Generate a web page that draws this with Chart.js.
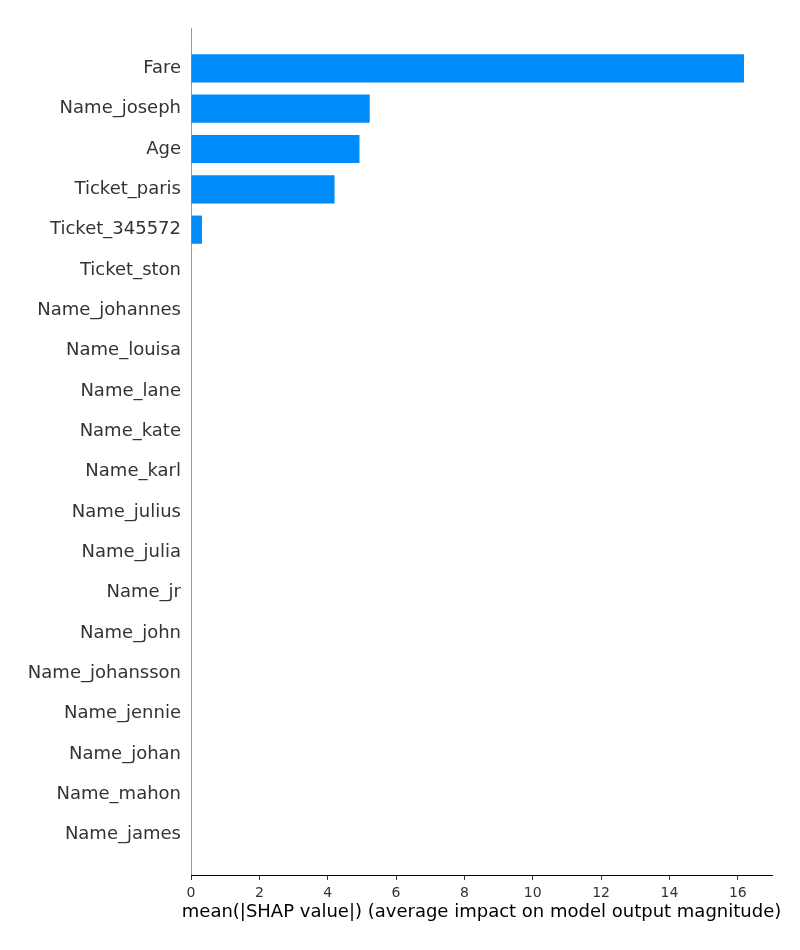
<!DOCTYPE html>
<html>
<head>
<meta charset="utf-8">
<script src="https://cdn.jsdelivr.net/npm/chart.js@4"></script>
<style>
  html, body { margin: 0; padding: 0; background: #fff; }
  #wrap { width: 800px; height: 950px; }
</style>
</head>
<body>
<div id="wrap"><canvas id="shapChart" width="800" height="950"></canvas></div>
<script>
// ===== DONNÉES =====
const features = ['Fare', 'Name_joseph', 'Age', 'Ticket_paris', 'Ticket_345572', 'Ticket_ston',
  'Name_johannes', 'Name_louisa', 'Name_lane', 'Name_kate', 'Name_karl', 'Name_julius',
  'Name_julia', 'Name_jr', 'Name_john', 'Name_johansson', 'Name_jennie', 'Name_johan',
  'Name_mahon', 'Name_james'];
const shapValues = [16.18, 5.23, 4.93, 4.2, 0.32, 0, 0, 0, 0, 0, 0, 0, 0, 0, 0, 0, 0, 0, 0, 0];
const xTicks = [0, 2, 4, 6, 8, 10, 12, 14, 16];
const xTitle = 'mean(|SHAP value|) (average impact on model output magnitude)';

// empty slot above and below, like the matplotlib ylim
const labels = [''].concat(features, ['']);
const values = [null].concat(shapValues, [null]);

const FONT = 'DejaVu Sans';

// the built-in scale title gets squeezed to the axis width, so draw it here
const xTitlePlugin = {
  id: 'xTitle',
  afterDraw(chart) {
    const c = chart.ctx;
    const area = chart.chartArea;
    c.save();
    c.font = '18px "' + FONT + '"';
    c.fillStyle = '#000000';
    c.textAlign = 'center';
    c.textBaseline = 'middle';
    c.fillText(xTitle, (area.left + area.right) / 2, area.bottom + 37);
    c.restore();
  }
};

const ctx = document.getElementById('shapChart').getContext('2d');
new Chart(ctx, {
  type: 'bar',
  data: {
    labels: labels,
    datasets: [{
      data: values,
      backgroundColor: '#008bfb',
      borderWidth: 0,
      barPercentage: 0.7,
      categoryPercentage: 1.0
    }]
  },
  plugins: [xTitlePlugin],
  options: {
    indexAxis: 'y',
    responsive: false,
    animation: false,
    layout: { padding: { top: 28, right: 28, left: 0, bottom: 0 } },
    plugins: {
      legend: { display: false },
      tooltip: { enabled: false }
    },
    scales: {
      y: {
        offset: false,
        grid: { display: false, drawTicks: false },
        border: { color: '#999999', width: 1 },
        ticks: {
          color: '#333333',
          padding: 10,
          font: { family: FONT, size: 18 },
          autoSkip: false
        },
        afterFit: s => { s.width = 191; }
      },
      x: {
        min: 0,
        max: 17,
        afterBuildTicks: s => { s.ticks = xTicks.map(v => ({ value: v })); },
        grid: { drawOnChartArea: false, drawTicks: true, tickLength: 5, color: '#333333' },
        border: { color: '#000000', width: 1 },
        ticks: {
          color: '#333333',
          padding: 5,
          maxRotation: 0,
          font: { family: FONT, size: 14 }
        },
        afterFit: s => { s.height = 75; }
      }
    }
  }
});
</script>
</body>
</html>
